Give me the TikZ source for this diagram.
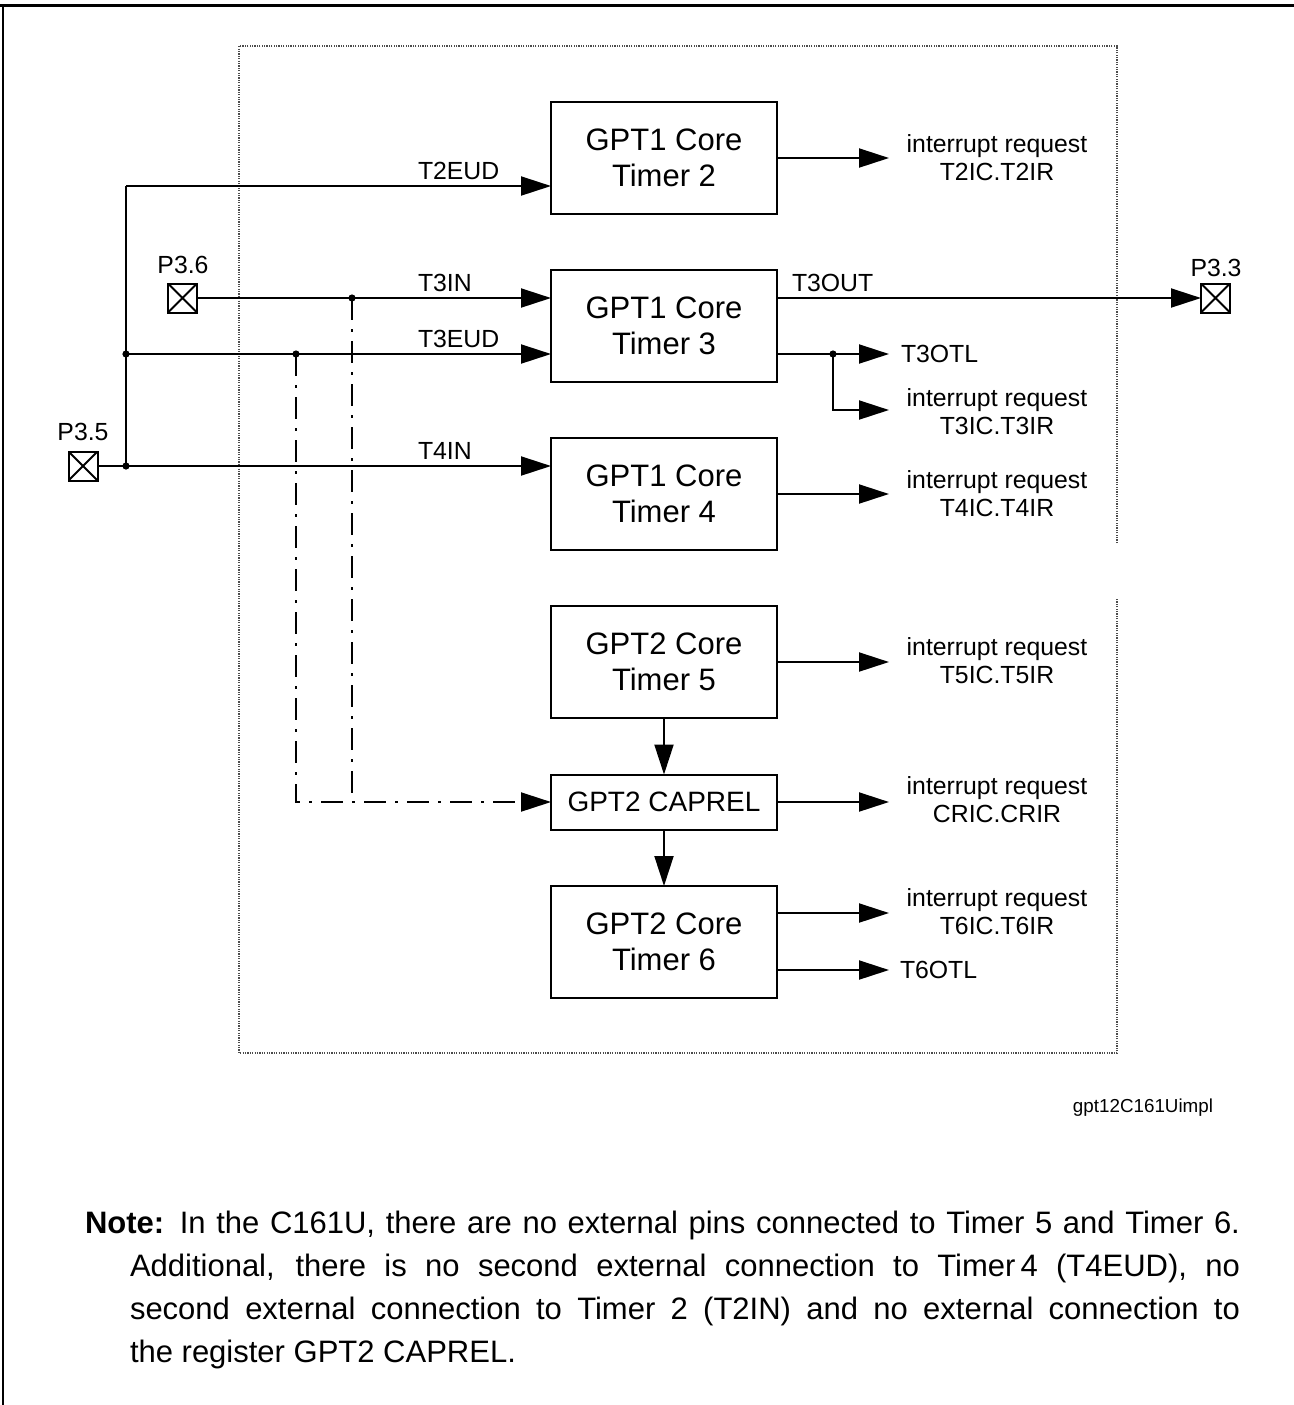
\documentclass[tikz,border=0pt]{standalone}
\usepackage{fontspec}
\setmainfont{Liberation Sans}
\usetikzlibrary{arrows.meta}
\begin{document}
\begin{tikzpicture}[x=0.5pt,y=-0.5pt,
  line width=1pt,
  every node/.style={inner sep=0pt, outer sep=0pt},
  core/.style={draw, line width=1pt, minimum width=113pt, minimum height=56pt, align=center, font=\fontsize{15.5pt}{18pt}\selectfont},
  lbl/.style={font=\fontsize{12.4pt}{14pt}\selectfont},
  irq/.style={lbl, align=center},
  arr/.style={-{Triangle[length=15pt,width=9.5pt]}},
  pinbox/.style={draw, line width=1pt, minimum size=14.5pt,
    path picture={\draw[line width=1pt] (path picture bounding box.south west) -- (path picture bounding box.north east) (path picture bounding box.north west) -- (path picture bounding box.south east);}},
  jdot/.style={circle, fill, minimum size=3.6pt},
  dashdot/.style={dash pattern=on 11pt off 4.5pt on 1.5pt off 4.5pt},
]
\useasboundingbox (0,0) rectangle (1294,1405);
% frame
\draw[line width=1.6pt] (0,5.5) -- (1294,5.5);
\draw[line width=1pt] (3,5) -- (3,1405);
% dotted area
\draw[gray!60!black, line width=0.6pt, dash pattern=on 0.6pt off 0.6pt]
  (1117,543) -- (1117,46) -- (239,46) -- (239,1053) -- (1117,1053) -- (1117,598);

% blocks
\node[core] (t2) at (664,158) {GPT1 Core\\Timer 2};
\node[core] (t3) at (664,326) {GPT1 Core\\Timer 3};
\node[core] (t4) at (664,494) {GPT1 Core\\Timer 4};
\node[core] (t5) at (664,662) {GPT2 Core\\Timer 5};
\node[core, minimum height=27.5pt, font=\fontsize{14pt}{16pt}\selectfont] (cap) at (664,802) {GPT2 CAPREL};
\node[core] (t6) at (664,942) {GPT2 Core\\Timer 6};

% pins
\node[pinbox] (p35) at (83,466) {};
\node[pinbox] (p36) at (182.5,298) {};
\node[pinbox] (p33) at (1215.5,298) {};
\node[lbl] (lp35) at (83,432) {P3.5};
\node[lbl] (lp36) at (183,265) {P3.6};
\node[lbl] (lp33) at (1216,268) {P3.3};

% junctions
\coordinate (jtop) at (126,186);
\coordinate (j35) at (126,466);
\coordinate (j3eud) at (126,354);
\coordinate (j3in) at (352,298);
\coordinate (jeud) at (296,354);
\coordinate (jcap1) at (296,802);
\coordinate (jcap2) at (352,802);

% inputs
\draw[arr] (jtop) -- (jtop -| t2.west);
\draw (jtop) -- (j35);
\draw (p35.east) -- (j35);
\draw[arr] (j35) -- (j35 -| t4.west);
\draw[arr] (j3eud) -- (j3eud -| t3.west);
\draw[arr] (p36.east) -- (p36.east -| t3.west);
\draw[dashdot, arr] (jeud) -- (jcap1) -- (cap.west);
\draw[dashdot] (j3in) -- (jcap2);
\node[jdot] (d1) at (j35) {};
\node[jdot] (d2) at (j3eud) {};
\node[jdot] (d3) at (jeud) {};
\node[jdot] (d4) at (j3in) {};

% input labels
\node[lbl, anchor=west] (lt2eud) at (418,171) {T2EUD};
\node[lbl, anchor=west] (lt3in) at (418,283) {T3IN};
\node[lbl, anchor=west] (lt3eud) at (418,339) {T3EUD};
\node[lbl, anchor=west] (lt4in) at (418,451) {T4IN};

% outputs
\coordinate (o2) at (889,158);
\coordinate (o3a) at (889,354);
\coordinate (j3o) at (833,354);
\coordinate (o3b) at (889,410);
\coordinate (o4) at (889,494);
\coordinate (o5) at (889,662);
\coordinate (oc) at (889,802);
\coordinate (o6a) at (889,913);
\coordinate (o6b) at (889,970);
\draw[arr] (t2.east) -- (o2);
\draw[arr] (t3.east |- p33) -- (p33.west);
\draw[arr] (t3.east |- o3a) -- (o3a);
\draw[arr] (j3o) |- (o3b);
\node[jdot] (d5) at (j3o) {};
\draw[arr] (t4.east) -- (o4);
\draw[arr] (t5.east) -- (o5);
\draw[arr] (cap.east) -- (oc);
\draw[arr] (t6.east |- o6a) -- (o6a);
\draw[arr] (t6.east |- o6b) -- (o6b);
\draw[arr] (t5.south) -- (cap.north);
\draw[arr] (cap.south) -- (t6.north);

% output labels
\node[lbl, anchor=west] (lt3out) at (792,283) {T3OUT};
\node[lbl, anchor=west] (lt3otl) at (901,354) {T3OTL};
\node[lbl, anchor=west] (lt6otl) at (900,970) {T6OTL};
\node[irq] (i2) at (997,158) {interrupt request\\T2IC.T2IR};
\node[irq] (i3) at (997,412) {interrupt request\\T3IC.T3IR};
\node[irq] (i4) at (997,494) {interrupt request\\T4IC.T4IR};
\node[irq] (i5) at (997,661) {interrupt request\\T5IC.T5IR};
\node[irq] (ic) at (997,800) {interrupt request\\CRIC.CRIR};
\node[irq] (i6) at (997,912) {interrupt request\\T6IC.T6IR};

\node[font=\fontsize{9.4pt}{11pt}\selectfont] (fig) at (1143,1108) {gpt12C161Uimpl};

% note
\node[anchor=base west] (note) at (85,1233) {\parbox[t]{577.5pt}{\fontsize{15.5pt}{21.5pt}\selectfont
\hangindent=22.5pt\hangafter=1\noindent\textbf{Note:} In the C161U, there are no external pins connected to Timer 5 and Timer 6.\linebreak
Additional, there is no second external connection to Timer\,4 (T4EUD), no\linebreak
second external connection to Timer 2 (T2IN) and no external connection to\linebreak
the register GPT2 CAPREL.}};
\end{tikzpicture}
\end{document}
